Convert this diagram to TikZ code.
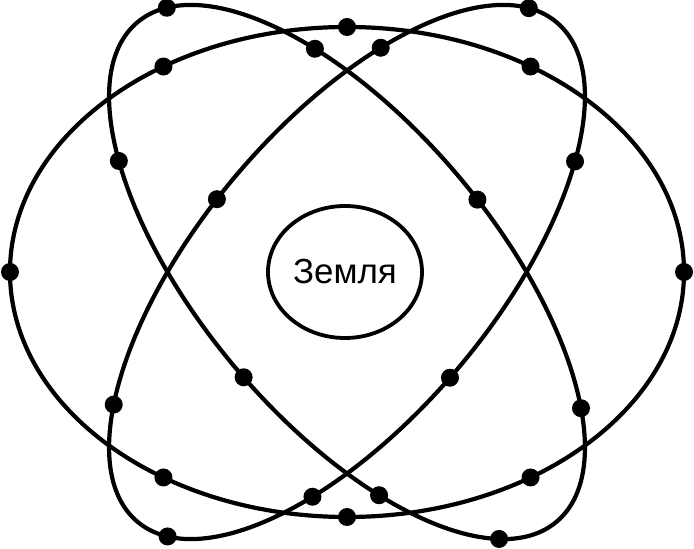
\documentclass[tikz,border=0pt]{standalone}
\usepackage{fontspec}
\setmainfont{Liberation Sans}
\usetikzlibrary{shapes.geometric}

\begin{document}
\begin{tikzpicture}[
    x=1bp, y=1bp,
    orbit/.style={draw=black, line width=4.2bp},
    satdot/.style={circle, fill=black, minimum size=18bp, inner sep=0pt},
    planet/.style={ellipse, draw=black, line width=3.8bp, fill=white,
                   minimum width=154bp, minimum height=132bp, inner sep=0pt,
                   font=\fontsize{35}{40}\selectfont},
  ]
    \useasboundingbox (-347,-277) rectangle (347,272);

    \draw[orbit] (0,0) ellipse [x radius=337bp, y radius=245bp];
    \begin{scope}[rotate=-50]
      \draw[orbit] (0,0) ellipse [x radius=326bp, y radius=147bp];
      \node[satdot] (a1) at (167.5:326 and 147) {};
      \node[satdot] (a2) at (224.7:326 and 147) {};
      \node[satdot] (a3) at (272.5:326 and 147) {};
      \node[satdot] (a4) at (306:326 and 147) {};
      \node[satdot] (a5) at (338:326 and 147) {};
      \node[satdot] (a6) at (38.6:326 and 147) {};
      \node[satdot] (a7) at (85:326 and 147) {};
      \node[satdot] (a8) at (126:326 and 147) {};
    \end{scope}
    \begin{scope}[rotate=50]
      \draw[orbit] (0,0) ellipse [x radius=326bp, y radius=147bp];
      \node[satdot] (b1) at (11.9:326 and 147) {};
      \node[satdot] (b2) at (315.2:326 and 147) {};
      \node[satdot] (b3) at (267.4:326 and 147) {};
      \node[satdot] (b4) at (233.4:326 and 147) {};
      \node[satdot] (b5) at (192.8:326 and 147) {};
      \node[satdot] (b6) at (140.5:326 and 147) {};
      \node[satdot] (b7) at (94.9:326 and 147) {};
      \node[satdot] (b8) at (53.6:326 and 147) {};
    \end{scope}

    \node[satdot] (h1) at (0:337 and 245) {};
    \node[satdot] (h2) at (57:337 and 245) {};
    \node[satdot] (h3) at (90:337 and 245) {};
    \node[satdot] (h4) at (123:337 and 245) {};
    \node[satdot] (h5) at (180:337 and 245) {};
    \node[satdot] (h6) at (237:337 and 245) {};
    \node[satdot] (h7) at (270:337 and 245) {};
    \node[satdot] (h8) at (303:337 and 245) {};

    \node[planet] (earth) at (-2,0) {Земля};
  \end{tikzpicture}
\end{document}
